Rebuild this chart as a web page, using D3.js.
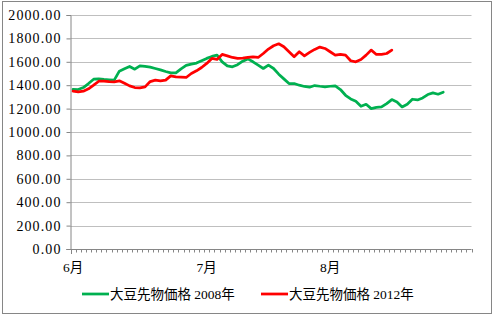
<!DOCTYPE html>
<html>
<head>
<meta charset="utf-8">
<script src="https://cdn.jsdelivr.net/npm/d3@7"></script>
<style>
  body { margin: 0; background: #fff; }
  #viz text { font-family: 'Liberation Serif', 'Noto Sans CJK JP', serif; fill: #000; }
</style>
</head>
<body>
<div id="viz"></div>
<script>
const dayCount = 78,
    monthLabels = ['6月', '7月', '8月'],
    monthIndex = [0, 26, 50],
    yTicks = [0, 200, 400, 600, 800, 1000, 1200, 1400, 1600, 1800, 2000],
    seriesNames = ['大豆先物価格 2008年', '大豆先物価格 2012年'],
    seriesColors = ['#00b050', '#ff0000'];

const price2008 = [1365, 1363, 1380, 1414, 1451, 1454, 1449, 1446, 1443, 1520,
    1540, 1560, 1537, 1566, 1560, 1554, 1543, 1531, 1517, 1506,
    1506, 1540, 1569, 1580, 1589, 1609, 1629, 1646, 1657, 1600,
    1565, 1557, 1575, 1605, 1625, 1600, 1571, 1543, 1571, 1543,
    1494, 1454, 1414, 1414, 1400, 1389, 1383, 1397, 1391, 1386,
    1391, 1394, 1363, 1314, 1283, 1263, 1220, 1237, 1200, 1211,
    1214, 1243, 1277, 1257, 1214, 1237, 1280, 1274, 1291, 1320,
    1334, 1323, 1340];

const price2012 = [1349, 1343, 1349, 1369, 1400, 1434, 1434, 1431, 1429, 1437,
    1417, 1394, 1380, 1377, 1386, 1431, 1443, 1437, 1443, 1480,
    1471, 1469, 1466, 1500, 1523, 1551, 1586, 1629, 1620, 1663,
    1651, 1637, 1629, 1631, 1637, 1643, 1637, 1671, 1709, 1737,
    1754, 1729, 1686, 1643, 1686, 1651, 1680, 1706, 1726, 1714,
    1686, 1657, 1663, 1657, 1609, 1600, 1620, 1657, 1700, 1663,
    1663, 1671, 1700];

const width = 495,
    height = 316,
    plot = {left: 70.5, right: 471.5, top: 15, bottom: 249};

const svg = d3.select('#viz')
    .append('svg')
    .attr('width', width)
    .attr('height', height);

// chart border
svg.append('rect')
    .attr('x', 2.5).attr('y', 1.5)
    .attr('width', 489).attr('height', 312)
    .attr('fill', '#fff')
    .attr('stroke', '#868686');

const xScale = d3.scaleBand()
    .domain(d3.range(dayCount))
    .range([plot.left, plot.right]);

const yScale = d3.scaleLinear()
    .domain([0, 2000])
    .range([plot.bottom, plot.top]);

const xPos = i => xScale(i) + xScale.bandwidth() / 2;

// gridlines
svg.append('g')
    .selectAll('line')
    .data(yTicks.slice(1))
    .enter().append('line')
    .attr('x1', plot.left).attr('x2', plot.right)
    .attr('y1', d => Math.round(yScale(d)) + 0.5)
    .attr('y2', d => Math.round(yScale(d)) + 0.5)
    .attr('stroke', '#bfbfbf');

// y axis
const yAxis = svg.append('g')
    .attr('transform', 'translate(' + plot.left + ',0)')
    .call(d3.axisLeft(yScale).tickValues(yTicks).tickSize(4).tickPadding(5)
        .tickFormat(d => d3.format('.2f')(d)));
yAxis.attr('font-family', null);
yAxis.select('.domain').attr('stroke', '#868686');
yAxis.selectAll('.tick line').attr('stroke', '#868686');
yAxis.selectAll('text')
    .style('font-size', '14px')
    .style('letter-spacing', '1.1px');

// x axis line with minor ticks
svg.append('line')
    .attr('x1', plot.left - 4).attr('x2', plot.right)
    .attr('y1', plot.bottom + 0.5).attr('y2', plot.bottom + 0.5)
    .attr('stroke', '#868686');

svg.append('g')
    .selectAll('line')
    .data(d3.range(dayCount + 1))
    .enter().append('line')
    .attr('x1', d => Math.round(plot.left + d * xScale.bandwidth()) + 0.5)
    .attr('x2', d => Math.round(plot.left + d * xScale.bandwidth()) + 0.5)
    .attr('y1', plot.bottom)
    .attr('y2', d => d === 0 ? plot.bottom + 5 : plot.bottom + 3.5)
    .attr('stroke', '#868686');

svg.append('g')
    .selectAll('text')
    .data(monthLabels)
    .enter().append('text')
    .attr('x', (d, i) => xPos(monthIndex[i]))
    .attr('y', 272)
    .attr('text-anchor', 'middle')
    .style('font-size', '13.5px')
    .text(d => d);

// lines
const line = d3.line()
    .x((d, i) => xPos(i))
    .y(d => yScale(d));

[price2008, price2012].forEach(function(data, k) {
    svg.append('path')
        .datum(data)
        .attr('d', line)
        .attr('fill', 'none')
        .attr('stroke', seriesColors[k])
        .attr('stroke-width', 2.75)
        .attr('stroke-linejoin', 'round')
        .attr('stroke-linecap', 'round');
});

// legend
const legendX = [82, 261];
const legend = svg.append('g')
    .selectAll('g')
    .data(seriesNames)
    .enter().append('g')
    .attr('transform', (d, i) => 'translate(' + legendX[i] + ',294)');

legend.append('line')
    .attr('x1', 0).attr('x2', 27)
    .attr('stroke', (d, i) => seriesColors[i])
    .attr('stroke-width', 2.75);

legend.append('text')
    .attr('x', 28)
    .attr('y', 4.5)
    .style('font-size', '13.5px')
    .text(d => d);
</script>
</body>
</html>
